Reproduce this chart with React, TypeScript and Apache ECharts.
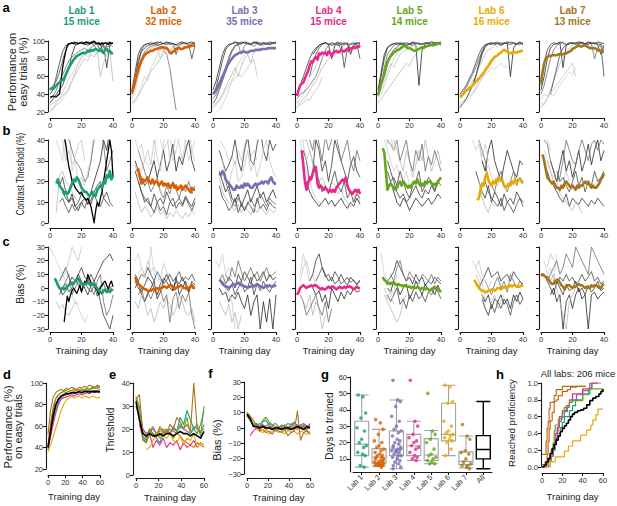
import React, { useEffect, useRef } from "react";
import * as echarts from "echarts";

const FONT = "'Liberation Sans', Arial, Helvetica, sans-serif";

// ---------- categories ----------
const LABS = ["Lab 1", "Lab 2", "Lab 3", "Lab 4", "Lab 5", "Lab 6", "Lab 7"];
const BOX_CATEGORIES = ["Lab 1", "Lab 2", "Lab 3", "Lab 4", "Lab 5", "Lab 6", "Lab 7", "All"];
const MICE_COUNTS = [15, 32, 35, 15, 14, 16, 13];
const ALL_LABS_TITLE = "All labs: 206 mice";

// ---------- x values ----------
const DAYS = [0, 1, 2, 3, 4, 5, 6, 7, 8, 9, 10, 11, 12, 13, 14, 15, 16, 17, 18, 19, 20, 21, 22, 23, 24, 25, 26, 27, 28, 29, 30, 31, 32, 33, 34, 35, 36, 37, 38, 39, 40];
const DAYS_EVEN = [0, 2, 4, 6, 8, 10, 12, 14, 16, 18, 20, 22, 24, 26, 28, 30, 32, 34, 36, 38, 40];
const DAYS_LONG = [0, 3, 6, 9, 12, 15, 18, 21, 24, 27, 30, 33, 36, 39, 42, 45, 48, 51, 54, 57, 60];

// ---------- row a: performance on easy trials, lab means (days 0..40) ----------
const PERF_MEAN = [
  [45, 47, 46, 48, 50, 52, 53, 55, 56, 58, 62, 66, 70, 73, 76, 79, 81, 83, 84, 85, 86, 87, 86, 87, 89, 88, 90, 89, 90, 91, 90, 89, 90, 88, 87, 90, 91, 88, 89, 86, 87],
  [42, 48, 55, 62, 68, 73, 78, 81, 84, 86, 87, 88, 89, 89, 90, 91, 91, 92, 92, 93, 93, 92, 92, 90, 87, 86, 88, 89, 91, 92, 92, 91, 91, 92, 93, 93, 94, 94, 95, 95, 95],
  [40, 42, 45, 48, 52, 56, 60, 64, 68, 72, 75, 78, 80, 82, 84, 85, 86, 87, 87, 88, 88, 87, 87, 88, 89, 89, 89, 90, 90, 90, 90, 91, 91, 91, 91, 92, 92, 92, 92, 92, 92],
  [38, 45, 50, 52, 53, 58, 62, 66, 72, 77, 76, 80, 82, 79, 86, 85, 87, 86, 87, 84, 88, 87, 83, 86, 88, 89, 87, 88, 90, 89, 88, 90, 91, 89, 92, 91, 93, 92, 94, 93, 95],
  [39, 45, 52, 57, 63, 70, 76, 80, 83, 85, 87, 88, 90, 90, 91, 93, 94, 95, 93, 92, 92, 91, 90, 89, 89, 90, 91, 92, 93, 92, 94, 94, 95, 95, 96, 95, 96, 96, 97, 97, 98],
  [37, 38, 40, 42, 44, 45, 47, 48, 50, 52, 54, 56, 58, 60, 62, 64, 67, 70, 72, 75, 78, 80, 82, 83, 84, 86, 87, 89, 90, 89, 88, 87, 86, 87, 88, 87, 87, 88, 88, 89, 89],
  [53, 65, 75, 80, 82, 83, 83, 84, 84, 84, 84, 85, 85, 85, 85, 86, 86, 87, 88, 89, 91, 92, 93, 94, 95, 94, 94, 95, 95, 94, 93, 92, 92, 92, 92, 91, 90, 89, 89, 88, 88],
];
// example mouse (Lab 1), days 0..40
const EXAMPLE_PERF = [37, 37, 38, 37, 37, 39, 40, 55, 70, 80, 88, 95, 97, 97, 98, 97, 98, 98, 97, 98, 98, 97, 98, 99, 98, 97, 98, 99, 100, 98, 97, 98, 96, 98, 97, 98, 97, 96, 98, 97, 98];
// individual mice (every 2 days, days 0..40)
const PERF_TRACES = [
  [
    [25, 22, 30, 35, 42, 50, 58, 62, 70, 75, 80, 85, 82, 88, 90, 85, 92, 88, 90, 86, 85],
    [40, 45, 60, 75, 88, 95, 97, 98, 96, 97, 99, 98, 95, 97, 98, 96, 90, 97, 98, 99, 97],
    [30, 35, 40, 45, 50, 60, 70, 85, 95, 97, 98, 96, 97, 99, 98, 97, 95, 97, 70, 96, 98],
    [28, 30, 32, 35, 38, 42, 48, 55, 62, 68, 75, 80, 78, 85, 82, 88, 60, 75, 85, 88, 55],
    [35, 38, 45, 55, 62, 70, 78, 82, 85, 88, 90, 92, 89, 93, 95, 90, 92, 94, 93, 95, 94],
    [45, 50, 55, 65, 78, 90, 96, 98, 99, 97, 98, 97, 99, 98, 95, 98, 97, 85, 96, 98, 97],
    [20, 25, 28, 30, 35, 40, 45, 55, 65, 75, 82, 88, 90],
  ],
  [
    [30, 35, 40, 50, 60, 55, 70, 75, 85, 90, 88],
    [40, 55, 75, 88, 92, 95, 96, 97, 95, 96, 97, 98, 96, 97, 95, 96, 97, 98, 96, 97, 98],
    [45, 65, 85, 93, 96, 97, 98, 97, 99, 98, 97, 99, 98, 97, 96, 98, 99, 97, 98, 99, 97],
    [30, 32, 38, 45, 52, 60, 66, 70, 75, 80, 85, 88],
    [40, 50, 65, 80, 88, 92, 94, 95, 96, 94, 90, 85, 70, 45, 22],
    [42, 58, 78, 90, 95, 97, 96, 98, 97, 99, 97, 96, 98, 97, 85, 96, 98, 97, 96, 80, 95],
    [35, 45, 60, 75, 85, 90, 92, 94, 93, 80, 90, 95, 85, 95, 94, 96, 95, 93, 97, 95, 96],
  ],
  [
    [15, 18, 22, 28, 35, 45, 55, 65, 75, 80, 85, 90, 88],
    [40, 48, 62, 78, 90, 95, 97, 98, 97, 99, 98, 97, 96, 98, 99, 97, 98, 96, 97, 98, 99],
    [45, 55, 70, 85, 93, 96, 97, 99, 98, 97, 99, 98, 97, 99, 98, 96, 98, 97, 99, 98, 97],
    [25, 28, 35, 40, 48, 55, 62, 70, 60, 72, 80, 85, 75, 88, 90],
    [35, 40, 48, 58, 70, 82, 90, 95, 96, 85, 95, 97, 96, 94, 97, 98, 95, 97, 96, 98, 97],
    [30, 35, 45, 55, 65, 78, 88, 94, 96, 97, 98, 97, 96, 98, 97, 95, 97, 98, 96, 97, 98],
    [28, 30, 32, 38, 45, 50, 55, 58, 62, 60, 65, 70, 75, 80, 60],
  ],
  [
    [30, 35, 40, 50, 60, 65, 72, 80, 85, 88, 90],
    [40, 50, 60, 70, 80, 88, 92, 95, 97, 98, 96, 98, 97, 95, 96, 98, 97, 90, 95, 97, 98],
    [null, null, null, null, null, 85, 90, 95, 97, 98, 96, 80, 95, 97, 98, 96, 97, 85, 96, 98, 97],
    [25, 30, 35, 38, 45, 50, 55, 62, 70, 75, 80, 85, 88, 90, 85, 80],
    [35, 40, 42, 45, 50, 55, 60, 70, 80, 90, 95, 97, 96, 98, 90, 97, 98, 96, 97, 98, 96],
    [null, null, null, null, 60, 75, 85, 92, 96, 98, 97, 95, 97, 99, 96, 70, 92, 97, 98, 96, 80],
    [32, 28, 30, 35, 33, 40, 45, 50, 60],
  ],
  [
    [35, 40, 50, 60, 70, 80, 85, 90, 92, 95, 93, 96],
    [40, 60, 80, 92, 96, 97, 98, 97, 96, 98, 97, 99, 98, 97, 96, 98, 97, 99, 98, 97, 98],
    [45, 65, 85, 93, 95, 97, 96, 98, 97, 95, 97, 98, 96, 50, 90, 97, 98, 96, 97, 98, 99],
    [30, 35, 40, 45, 50, 55, 60, 65, 70, 75, 72, 80, 85],
    [38, 50, 70, 85, 90, 95, 97, 96, 98, 97, 96, 95, 97, 98, 96, 97, 98, 99, 97, 98, 97],
    [null, null, 60, 75, 85, 90, 93, 96, 97, 95, 96, 97, 98, 96, 97, 98, 97, 96, 98, 97, 95],
    [40, 45, 55, 65, 75, 70, 78, 85, 88, 90, 92, 94, 95],
  ],
  [
    [30, 32, 35, 38, 42, 48, 55, 60, 62, 65, 70, 68, 72, 75, 70, 72, 68],
    [40, 45, 50, 58, 65, 75, 85, 92, 96, 97, 98, 96, 97, 98, 97, 99, 98, 97, 96, 98, 97],
    [25, 30, 35, 42, 50, 60, 72, 85, 93, 97, 96, 98, 97, 95, 97, 98, 60, 92, 97, 98, 96],
    [35, 40, 45, 50, 55, 62, 70, 78, 85, 90, 92, 95, 93],
    [38, 42, 48, 55, 62, 70, 80, 88, 94, 96, 97, 98, 97, 96, 98, 97, 99, 98, 97, 96, 98],
    [null, null, null, null, 50, 60, 75, 88, 95, 97, 98, 97, 99, 96, 98, 97, 96, 98, 97, 99, 97],
    [28, 30, 32, 35, 40, 45, 52, 58, 65, 70, 75, 80, 85, 88, 90],
  ],
  [
    [30, 28, 35, 40, 38, 45, 50, 55, 60, 65, 62, 70],
    [50, 75, 90, 96, 98, 97, 99, 98, 96, 97, 98, 97, 99, 98, 97, 96, 98, 97, 99, 98, 97],
    [45, 60, 80, 92, 96, 97, 98, 70, 95, 97, 98, 96, 97, 98, 97, 99, 98, 97, 96, 85, 95],
    [25, 30, 35, 45, 55, 65, 75, 82, 88, 92, 95, 97, 96],
    [40, 50, 65, 80, 90, 95, 97, 98, 96, 98, 97, 98, 99, 97, 96, 98, 97, 80, 92, 97, 90],
    [null, null, null, 40, 55, 70, 85, 92, 96, 98, 97, 98, 97, 99, 96, 98, 97, 98, 97, 96, 60],
    [35, 40, 38, 42, 45, 50, 55, 60, 65, 70, 75, 60],
  ],
];

// ---------- row b: contrast threshold ----------
const THRESHOLD_MEAN = [
  [null, null, null, null, 19, 21, 18, 17, 16, 14, 15, 14, 15, 17, 19, 21, 20, 22, 21, 19, 17, 16, 15, 15, 14, 13, 14, 15, 13, 13, 16, 17, 18, 17, 20, 19, 23, 22, 25, 21, 23],
  [null, null, null, 25, 26, 22, 19, 21, 20, 21, 22, 20, 19, 21, 19, 20, 20, 18, 19, 20, 18, 19, 18, 19, 17, 18, 19, 17, 18, 16, 17, 18, 16, 17, 18, 17, 16, 15, 17, 16, 16],
  [null, null, null, null, 24, 23, 25, 24, 21, 20, 19, 18, 17, 16, 16, 18, 17, 17, 18, 17, 19, 18, 19, 18, 17, 17, 18, 19, 18, 19, 19, 20, 19, 20, 20, 19, 21, 22, 20, 19, 19],
  [null, null, null, 35, 28, 20, 16, 19, 22, 21, 24, 26, 27, 19, 17, 18, 17, 16, 17, 16, 15, 16, 15, 16, 15, 17, 18, 19, 20, 21, 20, 22, 18, 16, 15, 14, 15, 16, 15, 16, 14],
  [null, null, null, 36, 34, 25, 16, 18, 19, 18, 17, 16, 17, 19, 20, 18, 20, 19, 18, 17, 18, 17, 19, 20, 19, 21, 19, 18, 19, 18, 20, 19, 20, 20, 19, 18, 19, 18, 20, 21, 22],
  [null, null, null, null, null, null, null, null, null, null, null, 11, 12, 16, 19, 18, 22, 24, 21, 19, 18, 20, 19, 21, 20, 22, 21, 20, 18, 17, 18, 19, 18, 20, 19, 21, 20, 21, 21, 20, 19],
  [null, 33, 30, 26, 22, 21, 20, 19, 20, 18, 17, 17, 16, 18, 17, 19, 20, 19, 18, 17, 18, 17, 16, 18, 17, 18, 18, 19, 20, 19, 20, 18, 17, 18, 17, 17, 18, 19, 21, 22, 24],
];
const EXAMPLE_THRESHOLD = [null, null, null, null, null, null, null, null, null, 42, 38, 32, 27, 24, 20, 19, 17, 16, 15, 14, 15, 13, 12, 11, 12, 10, 8, 4, 0, 6, 10, 8, 12, 15, 20, 25, 30, 35, 40, 35, 22];
const THRESHOLD_TRACES = [
  [
    [null, null, 40, 35, 30, 45, 50, 25, 30, 20, 22, 18, 25, 30, 45, 50],
    [null, null, 20, 18, 22, 15, 10, 12, 8, 10, 14, 12, 9, 11, 15, 18, 20, 12, 10, 8],
    [null, null, null, null, 15, 12, 10, 14, 8, 6, 10, 12, 9, 15, 20, 25, 30, 40, 35, 45, 50],
    [null, null, 5, 23, 25, 20, 18, 15, 12, 10, 8, 12, 10],
    [null, null, null, null, null, 45, 40, 35, 30, 28, 25, 20, 22, 30, 40, 45, 50, 38, 25, 30, 35],
    [null, null, null, 10, 12, 8, 5, 9, 6, 8, 10, 7, 12, 9, 14, 10, 8, 12, 15, 10, 8],
    [null, null, null, 45, 40, 30, 35, 28, 32, 38, 40, 30],
  ],
  [
    [null, 40, 35, 38, 30, 28, 25, 30, 45, 40, 35, 38, 42, 30, 35, 40, 45, 38, 30, 35, 40],
    [null, 25, 20, 15, 10, 12, 8, 14, 10, 12, 9, 15, 11, 8, 10, 12, 9, 13, 10, 8, 12],
    [null, 30, 25, 22, 18, 20, 25, 30, 22, 28, 35, 25, 30, 38, 25, 32, 28, 35, 40, 30, 25],
    [null, 15, 10, 5, 8, 6, 3, 5, 8, 4, 6, 2, 5, 3, 6, 4, 2, 5, 3, 6, 4],
    [null, null, 35, 30, 25, 20, 15, 18, 22, 15, 12, 18, 14, 20, 16, 12, 18, 15, 20, 14, 18],
    [null, null, 20, 15, 12, 10, 8, 5, 10, 6, 8, 4, 10, 12, 7, 10, 8, 12, 9, 6, 10],
    [null, 28, 22, 25, 30, 35, 28, 40, 32, 25, 38, 45, 30, 35, 42, 38, 30, 40, 45, 35, 30],
  ],
  [
    [null, null, 40, 38, 35, 30, 32, 28, 35, 30, 38, 40, 32, 35, 30],
    [null, null, 35, 30, 25, 28, 32, 40, 30, 25, 35, 42, 30, 28, 38, 45, 35, 30, 40, 35, 38],
    [null, null, 25, 20, 15, 18, 12, 10, 14, 8, 12, 16, 10, 14, 18, 12, 15, 10, 13, 16, 12],
    [null, null, 22, 15, 12, 10, 8, 6, 9, 5, 8, 6, 4, 7, 5, 8, 6, 4, 7, 5, 6],
    [null, null, null, null, 20, 15, 10, 8, 12, 10, 6, 9, 12, 8, 10, 14, 11, 8, 12, 10, 9],
    [null, null, 18, 12, 10, 6, 8, 12, 5, 9, 6, 10, 8, 5, 12, 7, 9, 6, 10, 8, 7],
    [null, null, null, 30, 22, 18, 25, 30, 20, 22, 28, 35, 25, 30, 22, 28, 35, 40, 30, 25, 22],
  ],
  [
    [null, 40, 30, 25, 20, 15, 12, 10, 8],
    [null, null, 35, 30, 20, 25, 40, 35, 25, 30, 20, 28, 40, 35, 30, 25, 20, 28, 32, 25, 22],
    [null, null, null, 20, 15, 12, 10, 8, 10, 12, 9, 11, 8, 10, 12, 9, 7, 10, 8, 12, 9],
    [null, null, 40, 40, 35, 30, 25, 20, 22, 18, 15, 20, 18, 14, 16, 12, 10, 8, 12, 15, 10],
    [null, null, null, null, 40, 35, 45, 38, 30, 42, 35, 40, 45, 38, 30, 35, 40, 30, 25, 35, 30],
    [null, null, null, null, null, 30, 25, 20, 15, 18, 14, 20, 25, 18, 15, 20, 12, 15, 10, 14, 12],
    [null, 45, 38, 30, 35, 28],
  ],
  [
    [null, null, 40, 35, 30, 25, 28, 22, 20, 25, 18],
    [null, null, null, 30, 25, 20, 15, 12, 14, 10, 12, 15, 18, 14, 12, 16, 14, 18, 15, 20, 18],
    [null, null, null, null, 20, 15, 10, 8, 12, 10, 6, 9, 12, 10, 8, 10, 12, 9, 11, 14, 12],
    [null, null, null, null, null, 40, 35, 30, 25, 35, 30, 22, 28, 35, 30, 40, 32, 25, 30, 35, 28],
    [null, null, null, 40, 38, 35, 40, 30, 35, 40, 30, 25, 35, 30, 38, 25, 32, 28, 35, 30, 25],
    [null, null, null, 25, 20, 22, 18, 25, 20, 15, 12, 18, 20, 25, 15, 18, 22, 20, 16, 19, 22],
    [null, null, 45, 38, 42, 35, 40],
  ],
  [
    [null, null, null, null, 40, 35, 38, 30, 25, 28, 22, 20, 18, 25],
    [null, null, null, null, null, 25, 20, 15, 12, 18, 10, 15, 12, 8, 14, 10, 12, 9, 15, 12, 10],
    [null, null, null, null, null, null, null, 30, 25, 35, 40, 30, 25, 20, 28, 35, 30, 25, 22, 30, 28],
    [null, null, null, null, null, null, 20, 12, 8, 5, 10, 8],
    [null, null, null, null, null, null, 40, 35, 30, 20, 18, 15, 22, 25, 18, 15, 20, 25, 18, 22, 20],
    [null, null, null, null, null, null, null, null, 20, 15, 12, 10, 8, 12, 6, 10, 8, 5, 9, 12, 8],
    [null, null, null, null, null, 45, 40, 32, 38, 30],
  ],
  [
    [null, 35, 30, 25, 22, 20, 15, 18, 25, 20],
    [null, null, 25, 20, 18, 15, 12, 10, 14, 8, 12, 10, 9, 12, 10, 8, 11, 9, 12, 10, 8],
    [null, null, null, 30, 25, 20, 28, 35, 25, 30, 22, 28, 35, 25, 30, 38, 28, 35, 40, 30, 35],
    [null, null, 30, 25, 20, 18, 14, 12, 10, 8, 6, 10, 8, 5],
    [null, 40, 38, 30, 25, 20, 22, 30, 40, 35, 30, 28, 35, 40, 35, 30, 38, 40, 35, 40, 38],
    [null, null, null, null, null, 25, 20, 22, 18, 15, 20, 25, 18, 22, 15, 20, 18, 25, 20, 22, 25],
    [null, 45, 40, 35],
  ],
];

// ---------- row c: bias ----------
const BIAS_MEAN = [
  [null, null, null, 7, 5, 2, 0, -1, 0, -1, 0, 1, 2, 3, 4, 3, 5, 6, 7, 5, 3, 2, 3, 3, 4, 3, 2, 3, 2, 1, 0, -2, -3, -4, -2, -1, -3, -2, -3, -1, -2],
  [null, null, 8, 5, 3, 2, 1, 0, -1, -1, -2, -2, -2, -1, -1, -1, 0, -1, 0, 0, 1, 1, 0, 1, 2, 2, 1, -1, 0, 1, 1, 2, 1, 0, 0, -1, 0, 1, 2, 0, 0],
  [null, null, null, null, 6, 5, 3, 2, 1, 1, 0, 1, 2, 3, 2, 3, 4, 3, 2, 2, 1, 1, 0, 1, 1, 2, 1, 2, 3, 2, 1, 1, 0, 1, 2, 1, 2, 1, 1, 2, 1],
  [-5, -3, 0, 1, 2, 1, 0, 1, 1, 2, 1, 2, 2, 1, 0, -1, 0, -1, -1, 0, 1, 0, 1, 1, 0, -1, 0, 1, 0, 0, 1, 0, 1, 1, 1, 0, -1, 0, 1, 0, 0],
  [null, null, null, 8, 6, 5, 3, 4, 3, 4, 3, 3, 2, 3, 2, 2, 1, 2, 1, 1, 1, 0, 1, 0, 0, 1, 0, -1, 0, 0, -1, 0, -1, -2, -1, 0, 1, 0, -1, -2, -3],
  [null, null, null, null, null, null, null, null, null, 6, 4, 2, 0, -1, -2, -2, -3, -3, -2, -2, -1, -1, -2, -1, 0, 0, -1, 0, 1, 0, 1, 1, 2, 1, 2, 2, 1, 1, 1, 2, 1],
  [9, 10, 9, 8, 8, 6, 4, 3, 3, 5, 6, 6, 4, 2, 1, -1, 1, 2, 2, 1, 0, 1, 1, 2, 3, 2, 2, 1, 0, 1, 0, 0, 2, 1, 2, 2, 1, 0, 0, 2, 3],
];
const EXAMPLE_BIAS = [null, null, null, null, null, null, null, null, null, -25, -15, -6, -10, -5, -2, 0, -2, -4, -1, 2, -3, 1, 5, 3, 10, 7, 4, 2, 3, 0, -2, -5, 1, 2, 4, 5, 2, -1, 3, 5, 1];
const BIAS_TRACES = [
  [
    [30, 25, 20, 15, 10, 5, 0, -5, -10, -15, -20, -25, -20],
    [null, null, null, 5, 10, 15, 8, 2, 5, 10, 15, 8, 5, 10, 5, 0, -10, -20, -25, -30, -20],
    [null, null, 5, 0, -5, -2, 3, 8, 5, 10, 5, 0, -5, 2, 5, 10, 15, 20, 22, 25, 20],
    [null, null, -10, -15, -12, -18, -20, -15, -10, -12],
    [null, null, null, null, 0, 5, 10, -5, 0, 5, -2, 3, 8, 0, -5, 5, 10, -10, -20, -15, -5],
    [null, null, null, -5, 0, 3, -3, 0, 6, 2, -2, 4, 0, -3, 2, -6, 0, 3, -2, 0, 2],
    [null, null, null, 10, 8, 12, 20, 30, 25, 20, 30],
  ],
  [
    [null, 20, 25, 15, 10, 5, 30, 10, 5, 8, 3],
    [null, 5, 0, -3, 2, 8, 5, 0, -5, 3, 7, 5, 0, -2, 5, 3, 8, 2, -3, 5, 2],
    [null, 10, 5, -5, -10, -5, 0, 5, -8, -3, 5, 10, 5, -2, 8, -5, 0, 5, -3, 3, 0],
    [null, -10, -15, -5, -10, -20, -15, -25, -18, -10, -15, -8, -12, -20, -15, -5, -10, -18, -20, -15, -25],
    [null, null, -5, 0, -10, -3, -8, -2, -5, 0, -10, -5, -25, -8, -3, -15, -5, -10, -3, -20, -30],
    [null, 0, 5, 10, 8, 15, 10, 5, 12, 8, 3, 6, 10, 5, 8, 12, 5, 8, 6, 10, 5],
    [null, null, 10, 15, 8, 20, 12, 15, 10, 5, 18, 12, 8],
  ],
  [
    [null, 20, 15, 25, 10, 15, 8],
    [null, null, 5, 10, 3, 8, 5, 0, 10, 5, 12, 8, 3, 10, 5, 8, 12, 5, 10, 6, 8],
    [null, null, 0, -5, -3, -10, -5, -8, -3, -10, -15, -5, -20, -10, -5, -30, -10, -25, -8, -30, -5],
    [null, null, -10, -15, -20, -12, -25, -18, -30, -20],
    [null, null, null, null, 10, 5, 15, 8, 20, 12, 5, 10, 15, 8, 12, 5, 10, 15, 8, 10, 12],
    [null, null, null, 5, 0, -2, 3, -5, 0, 5, -3, 0, 8, -5, 3, -2, 5, 0, -3, 2, 5],
    [null, null, 5, 10, 0, -5, -10, -30],
  ],
  [
    [null, 10, 25, 15, 5, 10, 0],
    [null, null, null, null, 5, 10, 20, 25, 15, 10, 5, 8, 3, 5, 10, 5, 2, 8, 5, 3, 6],
    [null, null, null, null, null, 0, -5, -2, -10, -5, -15, 0, -5, -10, -3, -8, -2, -5, 0, -3, -2],
    [null, null, -10, -15, -5, -20, -10, -15, -30, -20],
    [null, -5, -10, -20, -15, -10, -5, -15, -20, -10, -25, -15],
    [null, null, null, null, null, null, 5, 10, 15, 8, 10, 5, 12, 8, 3, 5, 8, 4, 6, 2, 5],
    [null, 5, 15, 20, 10],
  ],
  [
    [null, 25, 10, 5, 0, -5, 10],
    [null, null, null, 5, 8, 12, 20, 15, 10, 5, 8, 3, 10, 5, 8, 2, 5, 3, 8, 5, 3],
    [null, null, null, 0, -3, 5, 2, -5, 0, 3, -8, -3, 5, 0, -5, 3, -2, 0, -5, 2, -3],
    [null, null, -5, -10, -15, -20, -25, -20, -10, -5],
    [null, null, null, null, 10, 5, 15, 20, 10, 5, 12, 8, 5, 3, 10, 8, 5, 10, 3, 8, 5],
    [null, null, null, -5, -10, -5, 0, -12, -8, -15, -5, -10, -3, -8, -5, -10, -3, -5, 0, -3, -8],
    [null, null, 0, -8, -2, -12],
  ],
  [
    [null, null, null, null, 20, 15, 10, 5, -10],
    [null, null, null, null, null, null, 0, 5, 10, 15, 8, 10, 12, 5, 8, 10, 5, 12, 8, 5, 3],
    [null, null, null, null, null, null, null, -5, -10, -5, -15, -8, -10, -5, -12, -8, -15, -5, -10, -3, -8],
    [null, null, null, null, null, 10, 5, -5, -15, -20, -10, -5, -15, -10, -5],
    [null, null, null, null, null, null, null, null, 5, 0, -5, 3, 8, 0, 5, -3, 10, 5, 0, 5, 2],
    [null, null, null, null, null, null, null, -8, -15, -20, -12, -18, -10, -15, -8, -12, -20, -10, -5, -12, -8],
    [null, null, null, null, null, 15, 20, 10, 5, 0, 5],
  ],
  [
    [null, 20, 10, 15, 5, 25],
    [null, 10, 5, 0, -5, 5, 0, -5, 3, -2, 0, 5, -3, 0, -5, 2, -3, 0, 5, -2, 0],
    [null, null, null, -5, 0, -10, -5, -30, -10, -5, -15, -5, 0, -8, -5, -30, -5, -3, -8, -5, -3],
    [null, null, null, 5, 10, 0, -10, -20, -30, -10, -5, 0],
    [null, null, 5, 10, 15, 20, 10, 15, 25, 20, 15, 30, 25, 20, 15, 10, 30, 25, 20, 15, 10],
    [null, null, null, null, 5, 3, 8, 5, 10, 5, 8, 3, 5, 10, 5, 8, 12, 5, 8, 3, 5],
    [null, null, 15, 25, 20],
  ],
];

// ---------- d, e, f: lab averages over 60 days (every 3 days) ----------
const PERF_LONG = [
  [40, 52, 65, 75, 82, 86, 88, 89, 90, 91, 90, 91, 92, 91, 93, 92, 91, 92, 93, 92, 91],
  [42, 62, 78, 86, 89, 91, 92, 91, 92, 93, 92, 93, 94, 93, 94, 95, 94, 95, 96, 95, 96],
  [40, 55, 68, 78, 84, 87, 88, 89, 90, 91, 90, 91, 92, 91, 92, 93, 92, 93, 92, 93, 94],
  [38, 50, 62, 72, 80, 85, 86, 87, 88, 89, 88, 89, 90, 89, 90, 91, 90, 92, 91, 92, 91],
  [40, 58, 75, 85, 89, 91, 92, 93, 92, 93, 94, 93, 92, 94, 93, 95, 94, 96, 95, 97, 96],
  [36, 42, 50, 58, 66, 74, 80, 84, 86, 88, 86, 87, 88, 86, 88, 87, 86, 88, 87, 86, 87],
  [52, 75, 87, 91, 93, 94, 93, 95, 94, 96, 95, 94, 96, 95, 97, 96, 98, 97, 96, 98, 97],
];
const PERF_LONG_ALL = [40, 55, 70, 80, 85, 88, 89, 90, 90, 91, 91, 91, 92, 91, 92, 92, 92, 92, 92, 92, 92];
const THRESHOLD_LONG = [
  [30, 25, 17, 15, 20, 18, 16, 14, 18, 20, 18, 21, 19, 25, 22, 28, 24, 20, 18, 22, 28],
  [33, 28, 20, 18, 19, 20, 18, 17, 19, 18, 20, 19, 18, 17, 15, 14, 13, 12, 14, 13, 12],
  [30, 26, 20, 18, 19, 21, 18, 19, 20, 19, 18, 20, 19, 21, 20, 19, 18, 21, 20, 19, 20],
  [null, 22, 16, 14, 18, 12, 15, 13, 16, 12, 14, 13, 15, 11, 14, 12, 13, 15, 12, 14, 13],
  [34, 30, 15, 14, 19, 17, 18, 16, 17, 20, 18, 16, 19, 22, 20, 25, 18, 20, 22, 17, 30],
  [null, null, null, 11, 12, 15, 18, 20, 17, 16, 18, 15, 14, 17, 13, 16, 15, 18, 12, 14, 13],
  [33, 35, 19, 16, 20, 18, 17, 21, 19, 18, 22, 20, 25, 23, 20, 22, 19, 40, 20, 18, 22],
];
const THRESHOLD_LONG_ALL = [32, 24, 18, 17, 18, 17, 17, 18, 17, 18, 18, 17, 18, 19, 18, 18, 17, 18, 17, 16, 19];
const BIAS_LONG = [
  [8, 5, 2, 3, 1, 4, 5, 2, 0, -2, -1, 0, 2, -2, 1, 3, 2, 0, 1, -1, 3],
  [10, 7, 2, 0, -1, 1, -1, 0, 1, -1, 0, 1, -1, 0, 1, 0, -1, 1, 0, -1, 1],
  [9, 6, 2, 1, 3, 2, 1, 3, 2, 1, 0, 2, 1, 3, 2, 4, 1, 2, 3, 1, 2],
  [null, -5, -2, 0, 1, 2, 0, 1, -1, 0, 1, -1, 0, 1, 0, -1, 1, 0, 2, 1, 0],
  [8, 5, 3, 2, 0, 5, 7, 4, 2, 3, 1, 0, 2, -1, 3, 1, 0, 2, -1, -2, -3],
  [null, null, null, -1, -2, -3, -1, -4, -2, -1, -3, -2, -4, -1, -3, -2, -4, -2, -3, -4, -3],
  [10, 8, 5, 2, -2, -1, -3, -2, -4, -1, -2, -3, -1, -5, -3, -2, 11, -8, -3, -2, -4],
];
const BIAS_LONG_ALL = [9, 6, 1, 1, 0, 1, 0, 0, -1, 0, 0, -1, 0, 0, -1, 0, 1, 0, -1, 1, 0];

// ---------- g: days to trained ----------
const BOX_STATS = [
  [5, 12, 19, 33, 49],
  [5.5, 7.6, 11, 16.3, 28],
  [4, 12, 16, 27, 46],
  [9, 12, 18, 25, 33],
  [7, 9, 12.4, 22.4, 27.3],
  [12, 21, 25, 44, 55],
  [4.5, 6.5, 8.5, 14.3, 24],
  [4, 10, 15.7, 24.2, 45],
];
const DAYS_TO_TRAINED = [
  [49, 48, 38, 35, 29, 27, 22, 20, 18, 17, 14, 13, 12, 6, 5],
  [34, 32, 28, 25, 21, 20, 18, 17, 16, 15, 14, 13, 12, 12, 11, 11, 10, 10, 9, 9, 8, 8, 8, 7, 7, 7, 6, 6, 6, 6, 6, 5],
  [58, 46, 45, 42, 36, 33, 30, 28, 27, 26, 24, 22, 21, 20, 19, 18, 17, 17, 16, 16, 15, 15, 14, 14, 13, 12, 12, 11, 10, 9, 8, 7, 6, 5, 4],
  [58, 33, 30, 25, 23, 21, 20, 18, 17, 16, 14, 12, 11, 10, 9],
  [50, 27, 25, 22, 20, 16, 13, 12, 11, 10, 9, 8, 7, 7],
  [55, 54, 45, 44, 33, 30, 27, 26, 25, 24, 23, 22, 21, 20, 16, 12],
  [31, 24, 22, 15, 14, 13, 10, 8, 7, 6, 6, 5, 4],
];
const G_TICKS = [10, 20, 30, 40, 50, 60];

// ---------- h: reached proficiency ([day, fraction]) ----------
const PROFICIENCY = [
  [[0, 0], [5, 0.07], [8, 0.13], [11, 0.2], [13, 0.33], [15, 0.4], [18, 0.47], [20, 0.53], [22, 0.6], [27, 0.67], [30, 0.73], [33, 0.8], [40, 0.87], [47, 0.93], [49, 1.0], [55, 1.0]],
  [[0, 0.03], [3, 0.06], [5, 0.15], [6, 0.3], [7, 0.45], [8, 0.55], [10, 0.65], [12, 0.78], [14, 0.8], [16, 0.85], [20, 0.9], [25, 0.92], [28, 0.95], [34, 0.96], [43, 0.96]],
  [[0, 0], [4, 0.03], [6, 0.09], [8, 0.14], [10, 0.2], [12, 0.26], [14, 0.34], [15, 0.43], [16, 0.49], [17, 0.54], [19, 0.6], [22, 0.66], [25, 0.71], [27, 0.77], [30, 0.8], [34, 0.86], [40, 0.91], [46, 0.94], [49, 1.0], [55, 1.0]],
  [[0, 0], [6, 0.07], [9, 0.13], [11, 0.27], [13, 0.4], [15, 0.47], [17, 0.6], [20, 0.67], [24, 0.73], [27, 0.8], [30, 0.87], [40, 0.93], [47, 1.0], [58, 1.0]],
  [[0, 0], [8, 0.07], [9, 0.21], [11, 0.29], [12, 0.43], [13, 0.5], [16, 0.57], [20, 0.64], [22, 0.71], [27, 0.79], [40, 0.86], [46, 0.93], [60, 0.93]],
  [[0, 0], [5, 0.06], [12, 0.06], [13, 0.12], [20, 0.12], [22, 0.19], [26, 0.25], [30, 0.31], [38, 0.38], [44, 0.44], [48, 0.5], [50, 0.56], [53, 0.62], [55, 0.69], [60, 0.69]],
  [[0, 0.15], [4, 0.31], [5, 0.46], [6, 0.54], [7, 0.69], [8, 0.77], [12, 0.85], [14, 0.92], [20, 0.96], [43, 0.96]],
];
const PROFICIENCY_ALL = [[0, 0], [2, 0.02], [4, 0.06], [6, 0.1], [8, 0.16], [10, 0.22], [12, 0.27], [14, 0.32], [16, 0.37], [18, 0.42], [20, 0.46], [22, 0.49], [24, 0.52], [26, 0.56], [28, 0.6], [30, 0.63], [32, 0.65], [35, 0.67], [38, 0.68], [41, 0.7], [44, 0.74], [47, 0.79], [50, 0.82], [53, 0.84], [56, 0.87], [58, 0.9], [60, 0.93]];

// ---------- styles & layout ----------
const LAB_COLORS = ["#1b9e77", "#d95f02", "#7570b3", "#e7298a", "#66a61e", "#e6ab02", "#a6761d"];
const SHADES = ["#cfcfcf", "#3d3d3d", "#2b2b2b", "#bababa", "#707070", "#4a4a4a", "#c6c6c6"];
const JITTER = [-0.22, 0.08, 0.25, -0.05, -0.3, 0.18, 0.0, -0.15, 0.3, 0.12, -0.25, 0.05, 0.22, -0.1, 0.15, -0.2, 0.28];
const AX = "#1a1a1a";
const PANEL_LEFT = [50, 132, 213, 297, 378, 460, 541];
const PANEL_W = 63;

const minusFmt = (v: number) => (v < 0 ? "\u2212" + Math.abs(v) : String(v));

function valueAxis(gridIndex: number, min: number, max: number, interval: number, showLabel: boolean, offset: number, extra: any = {}) {
  return {
    type: "value",
    gridIndex,
    min,
    max,
    interval,
    offset,
    axisLine: { show: true, onZero: false, lineStyle: { color: AX, width: 1.1 } },
    axisTick: { show: true, length: 3, lineStyle: { color: AX, width: 1.1 } },
    axisLabel: { show: showLabel, fontSize: 7.5, color: "#333", margin: 3, fontFamily: FONT, formatter: minusFmt },
    splitLine: { show: false },
    ...extra,
  };
}

function xName(gap: number) {
  return {
    name: "Training day",
    nameLocation: "middle",
    nameGap: gap,
    nameTextStyle: { fontSize: 9.5, color: "#222", fontFamily: FONT },
  };
}

function lineSeries(gi: number, xs: number[], ys: (number | null)[], color: string, width: number, z: number, opacity = 1) {
  return {
    type: "line",
    xAxisIndex: gi,
    yAxisIndex: gi,
    data: ys.map((v, i) => [xs[i], v == null ? "-" : v]),
    symbol: "none",
    showSymbol: false,
    silent: true,
    clip: true,
    z,
    lineStyle: { color, width, opacity, join: "round" },
  };
}

function txt(x: number, y: number, text: string, size: number, o: any = {}) {
  return {
    type: "text",
    x,
    y,
    rotation: o.rot || 0,
    scaleX: o.sx || 1,
    silent: true,
    style: {
      text,
      fontSize: size,
      fontFamily: FONT,
      fontWeight: o.bold ? "bold" : "normal",
      fill: o.color || "#222",
      align: "center",
      verticalAlign: "middle",
    },
  };
}

function buildOption() {
  const grids: any[] = [];
  const xAxes: any[] = [];
  const yAxes: any[] = [];
  const series: any[] = [];
  const graphics: any[] = [];

  const rows = [
    { top: 41, height: 71, min: 20, max: 100, interval: 20, xOff: 6, mean: PERF_MEAN, traces: PERF_TRACES, example: EXAMPLE_PERF, name: false },
    { top: 140, height: 83, min: 0, max: 40, interval: 10, xOff: 5, mean: THRESHOLD_MEAN, traces: THRESHOLD_TRACES, example: EXAMPLE_THRESHOLD, name: false },
    { top: 247, height: 82, min: -30, max: 30, interval: 10, xOff: 3, mean: BIAS_MEAN, traces: BIAS_TRACES, example: EXAMPLE_BIAS, name: true },
  ];

  rows.forEach((r) => {
    LABS.forEach((_, l) => {
      const gi = grids.length;
      grids.push({ left: PANEL_LEFT[l], top: r.top, width: PANEL_W, height: r.height });
      xAxes.push(valueAxis(gi, 0, 40, 20, true, r.xOff, r.name ? xName(13) : {}));
      yAxes.push(valueAxis(gi, r.min, r.max, r.interval, l === 0, 2));
      r.traces[l].forEach((tr: (number | null)[], k: number) => {
        series.push(lineSeries(gi, DAYS_EVEN, tr, SHADES[k % SHADES.length], 0.9, 1, 0.9));
      });
      if (l === 0) series.push(lineSeries(gi, DAYS, r.example, "#000", 1.3, 2));
      series.push(lineSeries(gi, DAYS, r.mean[l], LAB_COLORS[l], 2.6, 3));
    });
  });

  // d
  let gi = grids.length;
  grids.push({ left: 48, top: 383, width: 52, height: 86 });
  xAxes.push(valueAxis(gi, 0, 60, 20, true, 6, xName(16)));
  yAxes.push(valueAxis(gi, 20, 100, 20, true, 2));
  PERF_LONG.forEach((v, l) => series.push(lineSeries(gi, DAYS_LONG, v, LAB_COLORS[l], 1.1, 2)));
  series.push(lineSeries(gi, DAYS_LONG, PERF_LONG_ALL, "#000", 1.6, 3));

  // e
  gi = grids.length;
  grids.push({ left: 136, top: 383, width: 68, height: 92 });
  xAxes.push(valueAxis(gi, 0, 60, 20, true, 3, xName(14)));
  yAxes.push(valueAxis(gi, 0, 40, 10, true, 3));
  THRESHOLD_LONG.forEach((v, l) => series.push(lineSeries(gi, DAYS_LONG, v, LAB_COLORS[l], 1.1, 2)));
  series.push(lineSeries(gi, DAYS_LONG, THRESHOLD_LONG_ALL, "#000", 1.6, 3));

  // f
  gi = grids.length;
  grids.push({ left: 247, top: 382, width: 63, height: 92 });
  xAxes.push(valueAxis(gi, 0, 60, 20, true, 4, xName(14)));
  yAxes.push(valueAxis(gi, -30, 30, 10, true, 3));
  BIAS_LONG.forEach((v, l) => series.push(lineSeries(gi, DAYS_LONG, v, LAB_COLORS[l], 1.1, 2)));
  series.push(lineSeries(gi, DAYS_LONG, BIAS_LONG_ALL, "#000", 1.6, 3));

  // g
  const gG = grids.length;
  grids.push({ left: 353, top: 377, width: 139, height: 95 });
  xAxes.push({
    type: "category",
    gridIndex: gG,
    data: BOX_CATEGORIES,
    boundaryGap: true,
    axisLine: { show: true, onZero: false, lineStyle: { color: AX, width: 1.1 } },
    axisTick: { show: true, alignWithLabel: true, length: 3, lineStyle: { color: AX, width: 1.1 } },
    axisLabel: { rotate: 45, fontSize: 7.5, color: "#333", margin: 4, fontFamily: FONT, interval: 0 },
    splitLine: { show: false },
  });
  yAxes.push({
    type: "value",
    gridIndex: gG,
    min: 2,
    max: 60,
    offset: 3,
    axisLine: { show: true, onZero: false, lineStyle: { color: AX, width: 1.1 } },
    axisTick: { show: true, length: 3, customValues: G_TICKS, lineStyle: { color: AX, width: 1.1 } },
    axisLabel: { fontSize: 7.5, color: "#333", margin: 3, fontFamily: FONT, customValues: G_TICKS },
    splitLine: { show: false },
  });

  // h
  const gH = grids.length;
  grids.push({ left: 542, top: 383, width: 61, height: 84 });
  xAxes.push(valueAxis(gH, 0, 60, 20, true, 6, xName(18)));
  yAxes.push(valueAxis(gH, 0, 1, 0.2, true, 1, { axisLabel: { fontSize: 7.5, color: "#333", margin: 3, fontFamily: FONT, formatter: (v: number) => v.toFixed(1) } }));
  PROFICIENCY.forEach((pts, l) =>
    series.push({ type: "line", xAxisIndex: gH, yAxisIndex: gH, step: "end", data: pts, symbol: "none", silent: true, z: 2, lineStyle: { color: LAB_COLORS[l], width: 1.2 } })
  );
  series.push({ type: "line", xAxisIndex: gH, yAxisIndex: gH, step: "end", data: PROFICIENCY_ALL, symbol: "none", silent: true, z: 3, lineStyle: { color: "#000", width: 1.6 } });

  // hidden jitter axis for g
  const jitterAxis = xAxes.length;
  xAxes.push({ type: "value", gridIndex: gG, min: -0.5, max: 7.5, show: false });

  series.push({
    type: "boxplot",
    xAxisIndex: gG,
    yAxisIndex: gG,
    boxWidth: [14, 14],
    silent: true,
    z: 2,
    data: BOX_STATS.map((b, i) => ({
      value: b,
      itemStyle: { color: "rgba(0,0,0,0)", borderColor: i === 7 ? "#000" : "#a3a3a3", borderWidth: i === 7 ? 1.4 : 1.1 },
    })),
  });
  DAYS_TO_TRAINED.forEach((vals, l) =>
    series.push({
      type: "scatter",
      xAxisIndex: jitterAxis,
      yAxisIndex: gG,
      symbolSize: 3.6,
      silent: true,
      z: 3,
      itemStyle: { color: LAB_COLORS[l] },
      data: vals.map((v, k) => [l + JITTER[k % JITTER.length] * 0.9, v]),
    })
  );

  // texts
  LABS.forEach((lab, l) => {
    const cx = PANEL_LEFT[l] + PANEL_W / 2;
    graphics.push(txt(cx, 10.3, lab, 10, { bold: true, color: LAB_COLORS[l] }));
    graphics.push(txt(cx, 21.7, `${MICE_COUNTS[l]} mice`, 10, { bold: true, color: LAB_COLORS[l] }));
  });
  const R = Math.PI / 2;
  graphics.push(txt(11.7, 72, "Performance on", 11, { rot: R }));
  graphics.push(txt(22.5, 72, "easy trials (%)", 11, { rot: R }));
  graphics.push(txt(20.5, 174, "Contrast Threshold (%)", 10, { rot: R, sx: 0.8 }));
  graphics.push(txt(19.5, 284, "Bias (%)", 10.5, { rot: R }));
  graphics.push(txt(8.3, 427, "Performance (%)", 11, { rot: R }));
  graphics.push(txt(17.5, 426.5, "on easy trials", 11, { rot: R }));
  graphics.push(txt(110.5, 430, "Threshold", 10, { rot: R }));
  graphics.push(txt(217, 440, "Bias (%)", 11, { rot: R }));
  graphics.push(txt(329, 426, "Days to trained", 10, { rot: R }));
  graphics.push(txt(511, 423, "Reached proficiency", 9.7, { rot: R }));
  graphics.push(txt(578, 373, ALL_LABS_TITLE, 9.5));

  const letters: [string, number, number][] = [
    ["a", 6, 7.5], ["b", 6.5, 130], ["c", 6, 241.5], ["d", 7, 374],
    ["e", 112.5, 374.5], ["f", 210.5, 373.5], ["g", 325, 374.5], ["h", 500, 374],
  ];
  letters.forEach(([t, x, y]) => graphics.push(txt(x, y, t, 13, { bold: true, color: "#000" })));

  return {
    animation: false,
    backgroundColor: "#fff",
    textStyle: { fontFamily: FONT },
    grid: grids,
    xAxis: xAxes,
    yAxis: yAxes,
    series,
    graphic: { elements: graphics },
  };
}

export default function App() {
  const ref = useRef<HTMLDivElement>(null);
  useEffect(() => {
    if (!ref.current) return;
    const chart = echarts.init(ref.current, null, { renderer: "svg" });
    chart.setOption(buildOption() as any);
    return () => chart.dispose();
  }, []);
  return <div ref={ref} style={{ position: "absolute", left: 0, top: 0, width: 617, height: 506 }} />;
}
